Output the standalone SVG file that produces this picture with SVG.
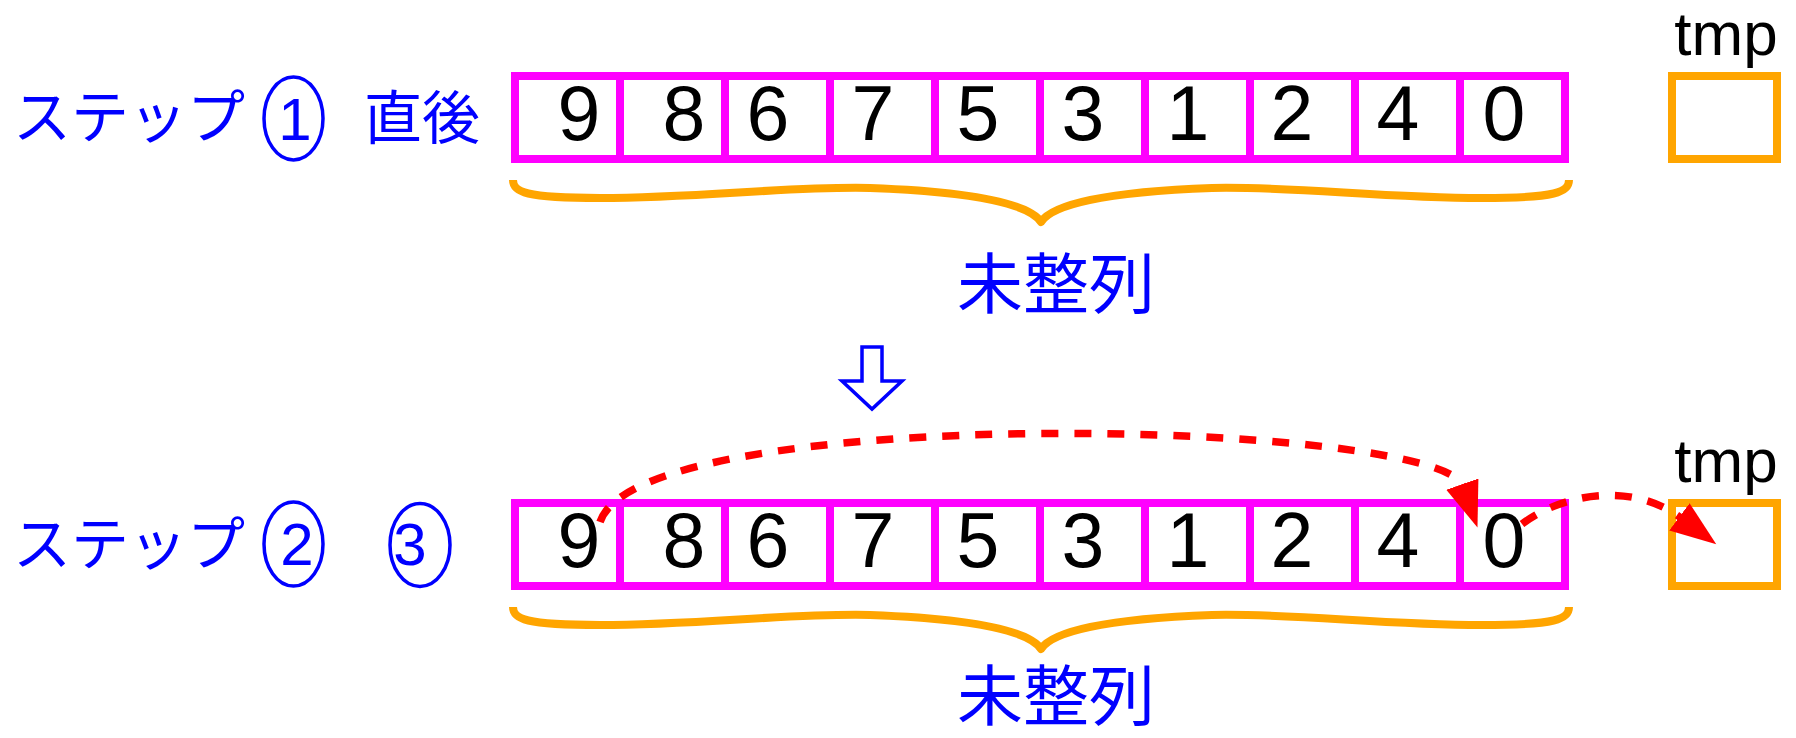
<svg xmlns="http://www.w3.org/2000/svg" width="1796" height="738" viewBox="0 0 1796 738">
<style>
.cell{fill:#fff;stroke:#FF00FF;stroke-width:8}
.tmpbox{fill:#fff;stroke:#FFA500;stroke-width:8}
.dig{font-family:"Liberation Sans",Arial,sans-serif;font-size:77px;fill:#000;text-anchor:middle}
.tmpl{font-family:"Liberation Sans",Arial,sans-serif;font-size:62px;fill:#000;text-anchor:middle}
.jp{font-family:"Noto Sans CJK JP",sans-serif;fill:#0000FF}
.circ{fill:none;stroke:#0000FF;stroke-width:3.5}
.cnum{font-family:"Liberation Sans",Arial,sans-serif;font-size:60px;fill:#0000FF;text-anchor:middle}
.brace{fill:none;stroke:#FFA500;stroke-width:8;stroke-linejoin:round}
.dash{fill:none;stroke:#FF0000;stroke-width:7.5;stroke-dasharray:17 16}
</style>
<defs>
<marker id="ah" markerUnits="userSpaceOnUse" markerWidth="50" markerHeight="40" refX="2" refY="17" orient="auto">
<path d="M0,0 L46,17 L0,34 Z" fill="#FF0000"/>
</marker>
<path id="bracePath" class="brace" d="M513,180 C513,192 525,198 600,198 C700,198 790,186 870,188 C980,192 1030,205 1041,222 C1052,205 1102,192 1212,188 C1292,186 1382,198 1482,198 C1557,198 1569,192 1569,180"/>
</defs>

<!-- Row 1 -->
<g id="label-step1">
<text class="jp" x="13" y="138" font-size="58">ステップ</text>
<ellipse class="circ" cx="293.5" cy="118.5" rx="29.5" ry="41.5"/>
<text class="cnum" x="295" y="140">1</text>
<text class="jp" x="364" y="139" font-size="58">直後</text>
</g>

<g id="array1">
<g id="a1-c0"><rect class="cell" x="515" y="76" width="105" height="83"/><text class="dig" x="579" y="140">9</text></g>
<g id="a1-c1"><rect class="cell" x="620" y="76" width="105" height="83"/><text class="dig" x="684" y="140">8</text></g>
<g id="a1-c2"><rect class="cell" x="725" y="76" width="105" height="83"/><text class="dig" x="768" y="140">6</text></g>
<g id="a1-c3"><rect class="cell" x="830" y="76" width="105" height="83"/><text class="dig" x="873" y="140">7</text></g>
<g id="a1-c4"><rect class="cell" x="935" y="76" width="105" height="83"/><text class="dig" x="978" y="140">5</text></g>
<g id="a1-c5"><rect class="cell" x="1040" y="76" width="105" height="83"/><text class="dig" x="1083" y="140">3</text></g>
<g id="a1-c6"><rect class="cell" x="1145" y="76" width="105" height="83"/><text class="dig" x="1188" y="140">1</text></g>
<g id="a1-c7"><rect class="cell" x="1250" y="76" width="105" height="83"/><text class="dig" x="1292" y="140">2</text></g>
<g id="a1-c8"><rect class="cell" x="1355" y="76" width="105" height="83"/><text class="dig" x="1398" y="140">4</text></g>
<g id="a1-c9"><rect class="cell" x="1460" y="76" width="105" height="83"/><text class="dig" x="1504" y="140">0</text></g>
</g>

<g id="tmp1">
<text class="tmpl" x="1726" y="55">tmp</text>
<rect class="tmpbox" x="1672" y="76" width="105" height="83"/>
</g>

<g id="brace1"><use href="#bracePath"/></g>
<g id="unsorted1"><text class="jp" x="1056" y="308" font-size="66" text-anchor="middle">未整列</text></g>

<g id="down-arrow">
<polygon points="862,347 862,381 842,381 872,409 902,381 882,381 882,347" fill="#fff" stroke="#0000FF" stroke-width="3.5" stroke-linejoin="miter"/>
</g>

<!-- Row 2 -->
<g id="label-step2">
<text class="jp" x="13" y="565" font-size="58">ステップ</text>
<ellipse class="circ" cx="293.5" cy="544" rx="29.5" ry="42"/>
<text class="cnum" x="297" y="565">2</text>
<ellipse class="circ" cx="420" cy="545" rx="30" ry="41.5"/>
<text class="cnum" x="410" y="565">3</text>
</g>

<g id="array2">
<g id="a2-c0"><rect class="cell" x="515" y="503" width="105" height="83"/><text class="dig" x="579" y="567">9</text></g>
<g id="a2-c1"><rect class="cell" x="620" y="503" width="105" height="83"/><text class="dig" x="684" y="567">8</text></g>
<g id="a2-c2"><rect class="cell" x="725" y="503" width="105" height="83"/><text class="dig" x="768" y="567">6</text></g>
<g id="a2-c3"><rect class="cell" x="830" y="503" width="105" height="83"/><text class="dig" x="873" y="567">7</text></g>
<g id="a2-c4"><rect class="cell" x="935" y="503" width="105" height="83"/><text class="dig" x="978" y="567">5</text></g>
<g id="a2-c5"><rect class="cell" x="1040" y="503" width="105" height="83"/><text class="dig" x="1083" y="567">3</text></g>
<g id="a2-c6"><rect class="cell" x="1145" y="503" width="105" height="83"/><text class="dig" x="1188" y="567">1</text></g>
<g id="a2-c7"><rect class="cell" x="1250" y="503" width="105" height="83"/><text class="dig" x="1292" y="567">2</text></g>
<g id="a2-c8"><rect class="cell" x="1355" y="503" width="105" height="83"/><text class="dig" x="1398" y="567">4</text></g>
<g id="a2-c9"><rect class="cell" x="1460" y="503" width="105" height="83"/><text class="dig" x="1504" y="567">0</text></g>
</g>

<g id="tmp2">
<text class="tmpl" x="1726" y="482">tmp</text>
<rect class="tmpbox" x="1672" y="503" width="105" height="83"/>
</g>

<g id="brace2"><use href="#bracePath" transform="translate(0,427)"/></g>
<g id="unsorted2"><text class="jp" x="1056" y="720" font-size="66" text-anchor="middle">未整列</text></g>

<g id="connectors">
<path class="dash" d="M600,522 C640,400 1440,420 1463,486" marker-end="url(#ah)"/>
<path class="dash" d="M1522,524 C1560,495 1630,480 1681,518" marker-end="url(#ah)"/>
</g>
</svg>
